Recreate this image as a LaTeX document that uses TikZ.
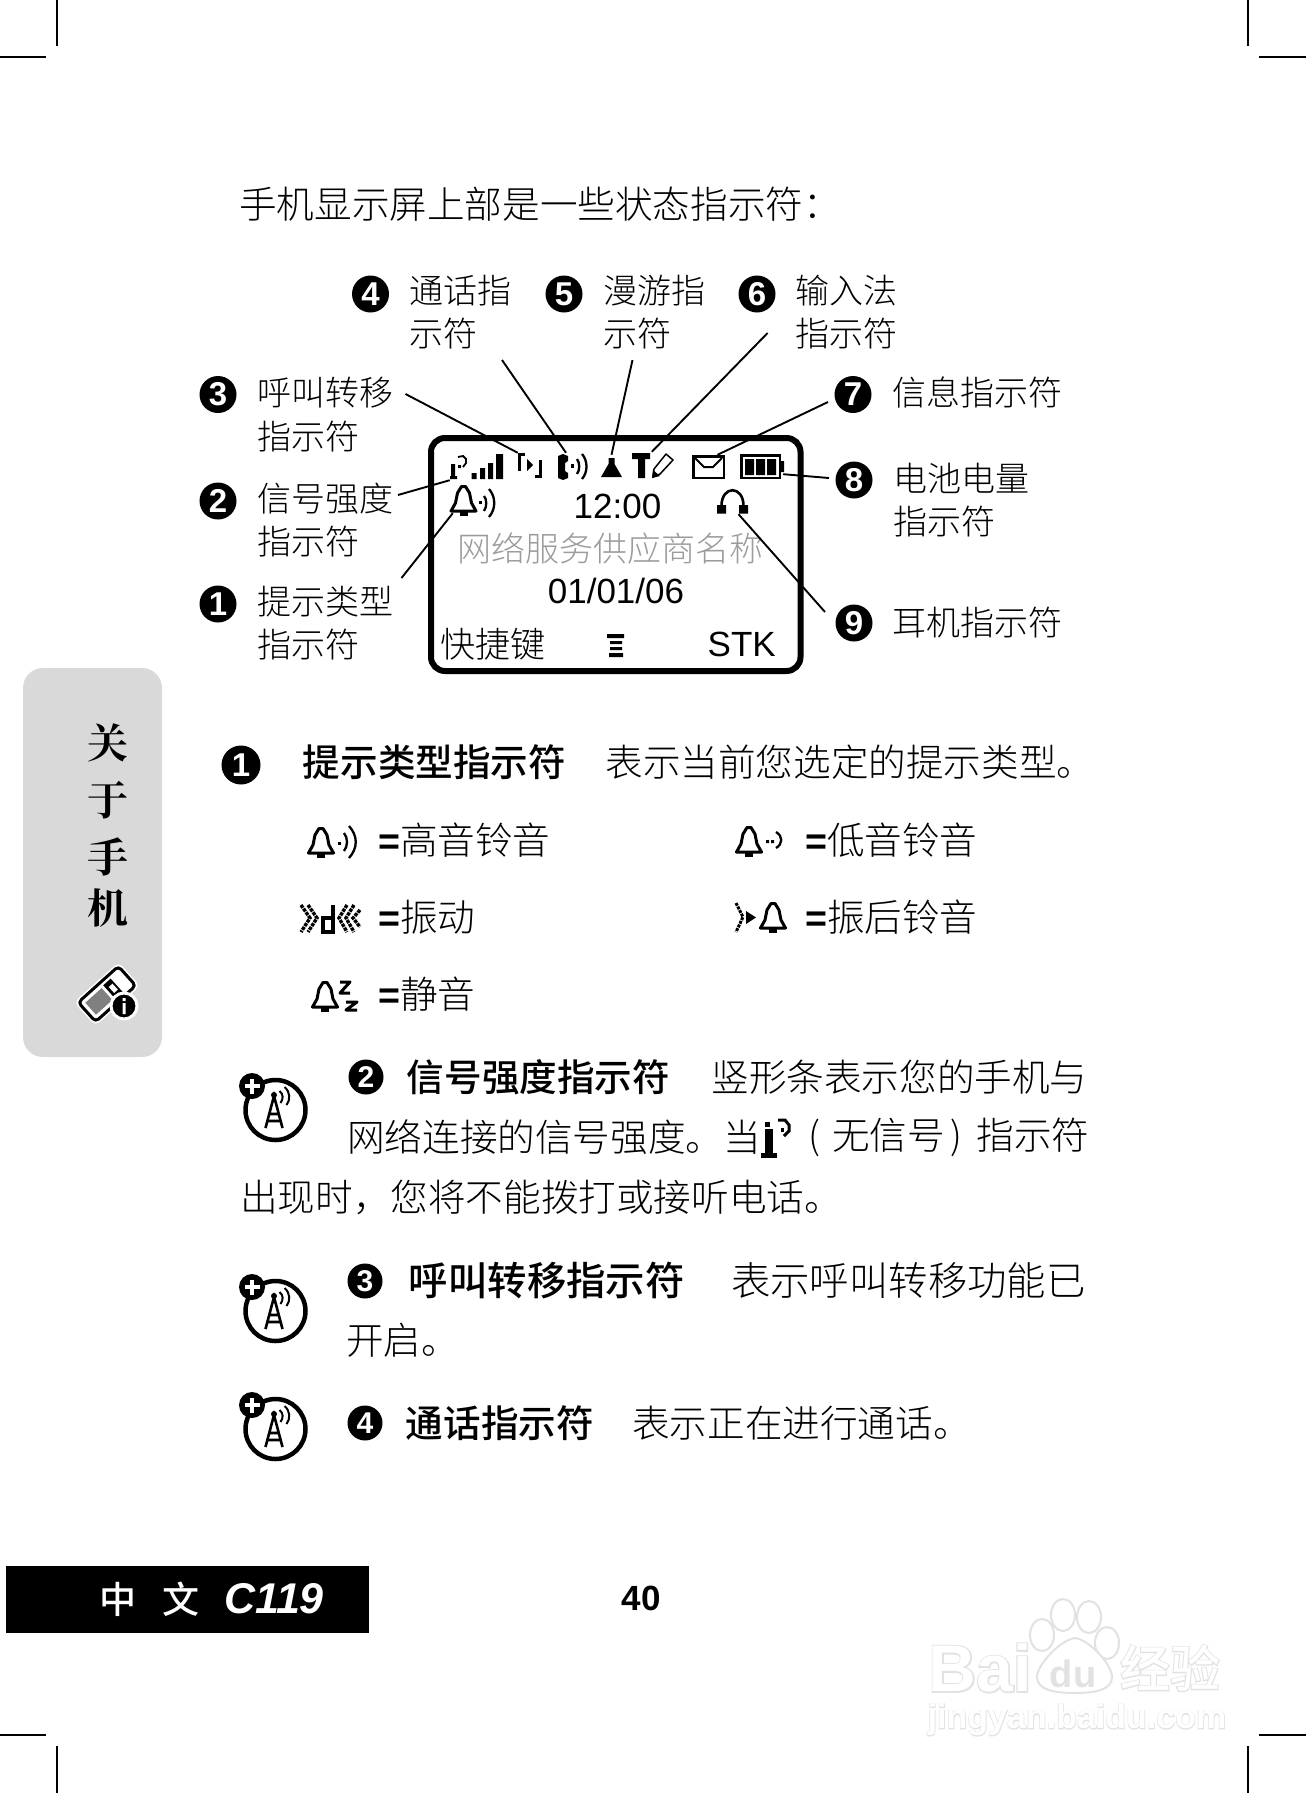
\documentclass[tikz,border=0pt]{standalone}
\usepackage{fontspec}
\usetikzlibrary{positioning,calc}
\setmainfont{Liberation Sans}
\newfontfamily\cjk{Noto Sans CJK SC Light}[BoldFont={Noto Sans CJK SC Medium}]
\newfontfamily\cjkhard{Noto Serif CJK SC}[BoldFont={Noto Serif CJK SC Bold}]
\definecolor{tabgrey}{HTML}{D9D9D9}
\definecolor{opgrey}{HTML}{9C9C9C}
\definecolor{wmgrey}{HTML}{E2E2E2}
\newcommand{\lblfont}{\cjk\fontsize{34}{43.5}\selectfont}
\newcommand{\txtfont}{\cjk\fontsize{37.6}{45}\selectfont}
\newcommand{\widefont}{\cjk\fontsize{39.4}{45}\selectfont}
\newcommand{\lcdfont}{\fontsize{35}{42}\selectfont}
\newcommand{\eqmark}{{\rmfamily\bfseries =}}
\tikzset{
  bellpic/.pic={
    \draw[line width=3pt,line join=round] (-12.5,-3)--(-8,-11)--(-6,-21)--(-2,-27.5)--(2,-27.5)--(6,-21)--(8,-11)--(12.5,-3)--cycle;
    \fill (-4,-3) rectangle (4,1.5);
  },
  modepic/.pic={
    \draw[line width=4.5pt] (0,0) circle[radius=30];
    \fill (-23.5,-24) circle[radius=13];
    \draw[white,line width=4pt] (-31,-24)--(-16,-24) (-23.5,-31.5)--(-23.5,-16.5);
    \draw[line width=2.6pt] (-10,18)--(-1.5,-14)--(7,18) (-6,4)--(3,4) (-8,11)--(5,11);
    \fill (-1.5,-15) circle[radius=3];
    \draw[line width=2pt] (4,-19) .. controls (8,-16) and (8,-11) .. (5,-7) (9,-23) .. controls (15,-18) and (15,-10) .. (11,-5);
  },
  nosigpic/.pic={
    \fill (-12,-10) rectangle (-4,19);
    \fill (-16,14) rectangle (0,19);
    \fill (-12,-17) rectangle (-7,-12);
    \draw[line width=3pt] (1,-19)--(8,-19)--(12,-14)--(12,-8)--(7,-3);
    \fill (4,-11) rectangle (7,-7);
  },
  numdot/.style={circle,fill=black,text=white,inner sep=0pt,minimum size=37pt,font=\fontsize{33}{33}\selectfont\bfseries},
  secdot/.style={numdot,minimum size=35pt,font=\fontsize{30}{30}\selectfont\bfseries},
  lbl/.style={inner sep=0pt,align=left,font=\lblfont},
  bodytxt/.style={inner sep=0pt,font=\txtfont},
  headtxt/.style={inner sep=0pt,font=\txtfont\bfseries},
  lcdtxt/.style={inner sep=0pt,font=\lcdfont},
  iconbox/.style={inner sep=0pt},
  leader/.style={line width=1.9pt},
  crop/.style={line width=1.4pt},
  wave/.style={line width=2.3pt},
  wmhalo/.style={inner sep=0pt,text=wmgrey},
  wmtop/.style={inner sep=0pt,text=white}
}
\begin{document}
\begin{tikzpicture}[x=1pt,y=-1pt]
\useasboundingbox[fill=white] (0,0) rectangle (1306,1793);
% crop marks
\coordinate (ca) at (0,57); \coordinate (cb) at (46,57); \coordinate (cc) at (57,0); \coordinate (cd) at (57,46);
\coordinate (ce) at (1259,57); \coordinate (cf) at (1306,57); \coordinate (cg) at (1248,0); \coordinate (ch) at (1248,46);
\coordinate (ci) at (0,1735); \coordinate (cj) at (46,1735); \coordinate (ck) at (57,1746); \coordinate (cl) at (57,1793);
\coordinate (cm) at (1259,1735); \coordinate (cn) at (1306,1735); \coordinate (co) at (1248,1746); \coordinate (cp) at (1248,1793);
\draw[crop] (ca)--(cb) (cc)--(cd) (ce)--(cf) (cg)--(ch) (ci)--(cj) (ck)--(cl) (cm)--(cn) (co)--(cp);

\node[bodytxt,anchor=west] (intro) at (239,204) {手机显示屏上部是一些状态指示符：};

% callout badges and labels
\node[numdot] (d4) at (370.5,294) {4};
\node[numdot] (d5) at (564,294) {5};
\node[numdot] (d6) at (757,294) {6};
\node[numdot] (d3) at (218,394.5) {3};
\node[numdot] (d2) at (218,501) {2};
\node[numdot] (d1) at (218,604) {1};
\node[numdot] (d7) at (853,394.5) {7};
\node[numdot] (d8) at (854,480) {8};
\node[numdot] (d9) at (854,623) {9};
\node[lbl,right=20pt of d4,yshift=-18pt] (l4) {通话指\\示符};
\node[lbl,right=21pt of d5,yshift=-18pt] (l5) {漫游指\\示符};
\node[lbl,right=20pt of d6,yshift=-18pt] (l6) {输入法\\指示符};
\node[lbl,right=21pt of d3,yshift=-20pt] (l3) {呼叫转移\\指示符};
\node[lbl,right=21pt of d2,yshift=-19pt] (l2) {信号强度\\指示符};
\node[lbl,right=21pt of d1,yshift=-19pt] (l1) {提示类型\\指示符};
\node[lbl,right=21pt of d7,yshift=2pt] (l7) {信息指示符};
\node[lbl,right=21pt of d8,yshift=-20pt] (l8) {电池电量\\指示符};
\node[lbl,right=20pt of d9] (l9) {耳机指示符};

% screen
\draw[line width=6pt,rounded corners=14pt] (431,438) rectangle (800.5,671);
\node[lcdtxt] (clock) at (617.5,506) {12:00};
\node[lbl,text=opgrey] (opname) at (610,548) {网络服务供应商名称};
\node[lcdtxt] (date) at (616,591) {01/01/06};
\node[lbl,anchor=west,font=\cjk\fontsize{35}{42}\selectfont] (softl) at (440,644) {快捷键};
\node[lcdtxt,anchor=east] (softr) at (776,644) {STK};

% status icons
\node[iconbox,minimum width=53pt,minimum height=25pt] (sig) at (476.5,467.5) {};
\fill (471.7,473) rectangle (476.7,479) (480,468) rectangle (485,479) (488,463) rectangle (493,479) (496,454) rectangle (503,479);
\fill (451,464) rectangle (455,479) (450,476) rectangle (457,479) (458,465) rectangle (461,468);
\draw[line width=1.8pt] (458,457)--(463,456)--(466,459)--(466,463)--(463,467);
\node[iconbox,minimum width=24pt,minimum height=25pt] (fwd) at (530,465.5) {};
\draw[line width=3.6pt] (525,454.5)--(519.5,454.5)--(519.5,471) (535,476.5)--(540.5,476.5)--(540.5,460);
\fill (527,459) -- (533,465) -- (527,471) -- cycle;
\node[iconbox,minimum width=30pt,minimum height=27pt] (call) at (573,466.5) {};
\fill (558,456) -- (563,454) -- (568,456) -- (568,461) -- (565,463) -- (565,471) -- (568,473) -- (568,478) -- (563,480) -- (558,478) -- cycle;
\fill (571,464) rectangle (574,468);
\draw[wave] (577,459) .. controls (580,463) and (580,470) .. (577,474) (582,454) .. controls (588,461) and (588,472) .. (582,479);
\node[iconbox,minimum width=21pt,minimum height=22pt] (roam) at (611.5,466) {};
\fill (601,477)--(622,477)--(614.5,464)--(614.5,458)--(608.5,458)--(608.5,464)--cycle;
\fill (632,453) rectangle (650,459) (638,453) rectangle (645,478);
\node[iconbox,minimum width=21pt,minimum height=26pt] (pen) at (662.5,465) {};
\draw[line width=1.5pt,line join=round] (653,477)--(654,469)--(666,454)--(673,460)--(660,474)--cycle;
\fill (652,478)--(653,470)--(660,476)--cycle;
\node[iconbox,minimum width=33pt,minimum height=24pt] (env) at (708.5,467) {};
\draw[line width=2.6pt] (693.5,456.5) rectangle (724,478);
\draw[line width=2pt] (695,458)--(704,467)--(713,467)--(722,458);
\node[iconbox,minimum width=43pt,minimum height=25pt] (batt) at (761.5,466.5) {};
\draw[line width=2.6pt] (741.5,455.5) rectangle (780,478);
\fill (745,459) rectangle (754,475) (756,459) rectangle (765,475) (767,459) rectangle (776,475) (781,461) rectangle (784,472);
\node[iconbox,minimum width=27pt,minimum height=27pt] (ring) at (463.5,503.5) {};
\pic at (463.5,514) {bellpic};
\fill (479,501) rectangle (482,504);
\draw[wave] (484,496) .. controls (487,499) and (487,507) .. (484,511) (489,489) .. controls (496,497) and (496,509) .. (489,517);
\node[iconbox,minimum width=31pt,minimum height=24pt] (phones) at (732.5,502) {};
\draw[line width=2.6pt] (721.5,506) .. controls (721.5,485) and (743.5,485) .. (743.5,506);
\fill (717,505) rectangle (726,513.5) (739,505) rectangle (748,513.5);
\node[iconbox,minimum width=17pt,minimum height=23pt] (menu) at (615.5,645.5) {};
\fill (607,634) rectangle (624,638) (610,641) rectangle (622,644) (610,647) rectangle (622,650) (609,653) rectangle (623,657);

% leaders
\coordinate (t1) at (401.5,578); \coordinate (t2) at (398,495); \coordinate (t3) at (405.5,394);
\coordinate (t4) at (502,360); \coordinate (t5) at (632.5,360); \coordinate (t6) at (767.6,333);
\coordinate (t7) at (828,402); \coordinate (t8) at (829,478); \coordinate (t9) at (825,612);
\draw[leader] (t1)--([xshift=3pt,yshift=4pt]ring.south west);
\draw[leader] (t2)--(sig.south west);
\draw[leader] (t3)--(fwd.north west);
\draw[leader] (t4)--([xshift=-7pt]call.north);
\draw[leader] (t5)--(roam.north);
\draw[leader] (t6)--(pen.north west);
\draw[leader] (t7)--([xshift=9pt]env.north);
\draw[leader] (t8)--([yshift=5pt]batt.south east);
\draw[leader] (t9)--([xshift=6pt]phones.south);

% side tab
\node[draw=none,fill=tabgrey,rounded corners=20pt,minimum width=139pt,minimum height=389pt,inner sep=0pt] (tab) at (92.5,862.5) {};
\node[inner sep=0pt,font=\cjkhard\bfseries\fontsize{41}{41}\selectfont] (t_a) at (108,743) {关};
\node[inner sep=0pt,font=\cjkhard\bfseries\fontsize{41}{41}\selectfont] (t_b) at (108,800) {于};
\node[inner sep=0pt,font=\cjkhard\bfseries\fontsize{41}{41}\selectfont] (t_c) at (108,857) {手};
\node[inner sep=0pt,font=\cjkhard\bfseries\fontsize{41}{41}\selectfont] (t_d) at (108,908) {机};
\begin{scope}[shift={(107,994)},rotate=42]
\draw[white,line width=4pt,rounded corners=4pt] (-28,-14) rectangle (28,14);
\draw[line width=3pt,fill=white,rounded corners=4pt] (-27,-13) rectangle (27,13);
\fill[gray] (-22,-8) rectangle (0,8);
\fill (3,-9) rectangle (13,9);
\fill[white] (6,-4) rectangle (11,4);
\end{scope}
\draw[white,line width=3pt,fill=black] (124,1006) circle[radius=13];
\fill[white] (122.5,998) rectangle (125.5,1001) (122.5,1003) rectangle (125.5,1014);

% item 1
\node[secdot,minimum size=39pt,font=\fontsize{33}{33}\selectfont\bfseries] (s1) at (241,765) {1};
\node[headtxt,right=42pt of s1,yshift=3pt] (s1h) {提示类型指示符};
\node[bodytxt,right=39pt of s1h] (s1t) {表示当前您选定的提示类型。};

% alert types
\pic at (321,856) {bellpic};
\fill (338,842) rectangle (341,845);
\draw[wave] (344,833) .. controls (348,838) and (348,846) .. (344,851) (349,826) .. controls (358,836) and (358,848) .. (349,858);
\pic at (749,855) {bellpic};
\fill (766,840) rectangle (769,843) (771,840) rectangle (774,843);
\draw[wave] (776,832) .. controls (783,836) and (783,844) .. (776,848);
\pic at (325,1010) {bellpic};
\draw[line width=3pt,line join=round] (340,982)--(350,982)--(340,993)--(350,993);
\draw[line width=3pt,line join=round] (346,1002)--(357,1002)--(346,1010)--(357,1010);
% vibrate mark
\draw[line width=3.2pt] (323,918) rectangle (333,932) (333,905)--(333,932);
\draw[densely dotted,line width=3.4pt] (301,905)--(310,918)--(301,932) (308,905)--(317,918)--(308,932)
  (347,905)--(339,918)--(347,932) (354,905)--(346,918)--(354,932) (360,910)--(353,918)--(360,927);
\draw[densely dotted,line width=3pt] (736,903)--(743,917)--(736,932);
\fill (746,911)--(756,917.5)--(746,924)--cycle;
\pic at (773,931) {bellpic};
\node[bodytxt,anchor=west,font=\txtfont] (a1) at (378,840) {\eqmark 高音铃音};
\node[bodytxt,anchor=west,font=\txtfont] (a2) at (805,840) {\eqmark 低音铃音};
\node[bodytxt,anchor=west,font=\txtfont] (a3) at (378,917) {\eqmark 振动};
\node[bodytxt,anchor=west,font=\txtfont] (a4) at (805,917) {\eqmark 振后铃音};
\node[bodytxt,anchor=west,font=\txtfont] (a5) at (378,994) {\eqmark 静音};

% item 2
\pic at (275.5,1110) {modepic};
\node[secdot] (s2) at (366,1077) {2};
\node[headtxt,right=23pt of s2] (s2h) {信号强度指示符};
\node[bodytxt,right=41pt of s2h] (s2t) {竖形条表示您的手机与};
\node[bodytxt,anchor=west] (s2l) at (347,1137) {网络连接的信号强度。当};
\pic at (777,1139) {nosigpic};
\node[bodytxt,anchor=west] (s2m) at (808,1137) {(\hspace{12pt}无信号\hspace{6pt})\hspace{14pt}指示符};
\node[bodytxt,anchor=west] (s2n) at (240,1197) {出现时，您将不能拨打或接听电话。};

% item 3
\pic at (275.5,1311) {modepic};
\node[secdot] (s3) at (365,1281) {3};
\node[headtxt,right=26pt of s3,font=\widefont\bfseries] (s3h) {呼叫转移指示符};
\node[bodytxt,right=46pt of s3h,font=\widefont] (s3t) {表示呼叫转移功能已};
\node[bodytxt,anchor=west] (s3l) at (346,1340) {开启。};

% item 4
\pic at (275.5,1429) {modepic};
\node[secdot] (s4) at (365,1423) {4};
\node[headtxt,right=23pt of s4] (s4h) {通话指示符};
\node[bodytxt,right=38pt of s4h] (s4t) {表示正在进行通话。};

% footer
\node[fill=black,inner sep=0pt,minimum width=363pt,minimum height=67pt] (bar) at (187.5,1599.5) {};
\node[inner sep=0pt,text=white,font=\cjk\bfseries\fontsize{37}{37}\selectfont] (zh) at (118,1599) {中};
\node[inner sep=0pt,text=white,font=\cjk\bfseries\fontsize{37}{37}\selectfont,right=26pt of zh] (wen) {文};
\node[inner sep=0pt,text=white,font=\fontsize{43}{43}\selectfont\bfseries\itshape,right=24pt of wen] (model) {C119};
\node[inner sep=0pt,font=\fontsize{35}{35}\selectfont\bfseries] (pageno) at (641,1598) {40};

% watermark
\node[wmhalo,font=\fontsize{66}{66}\selectfont\bfseries\addfontfeature{FakeBold=4}] (wa) at (980,1668) {Bai};
\node[wmtop,font=\fontsize{66}{66}\selectfont\bfseries] (wb) at (wa) {Bai};
\draw[wmgrey,line width=2pt,fill=white] (1042,1635) ellipse[x radius=12,y radius=16] (1063,1615) ellipse[x radius=12,y radius=16] (1089,1617) ellipse[x radius=12,y radius=16] (1107,1643) ellipse[x radius=12,y radius=16];
\draw[wmgrey,line width=2pt,fill=white] (1075,1638) .. controls (1090,1640) and (1112,1665) .. (1112,1677) .. controls (1112,1690) and (1095,1693) .. (1075,1693) .. controls (1055,1693) and (1037,1690) .. (1037,1677) .. controls (1037,1665) and (1060,1640) .. (1075,1638) -- cycle;
\node[inner sep=0pt,text=wmgrey,font=\fontsize{38}{38}\selectfont\bfseries] (wc) at (1073,1674) {du};
\node[wmhalo,font=\cjk\bfseries\fontsize{50}{50}\selectfont\addfontfeature{FakeBold=4}] (wd) at (1170,1668) {经验};
\node[wmtop,font=\cjk\bfseries\fontsize{50}{50}\selectfont] (we) at (wd) {经验};
\node[wmhalo,font=\fontsize{34}{34}\selectfont\bfseries\addfontfeature{FakeBold=4}] (wf) at (1077,1720) {jingyan.baidu.com};
\node[wmtop,font=\fontsize{34}{34}\selectfont\bfseries] (wg) at (wf) {jingyan.baidu.com};
\end{tikzpicture}
\end{document}
